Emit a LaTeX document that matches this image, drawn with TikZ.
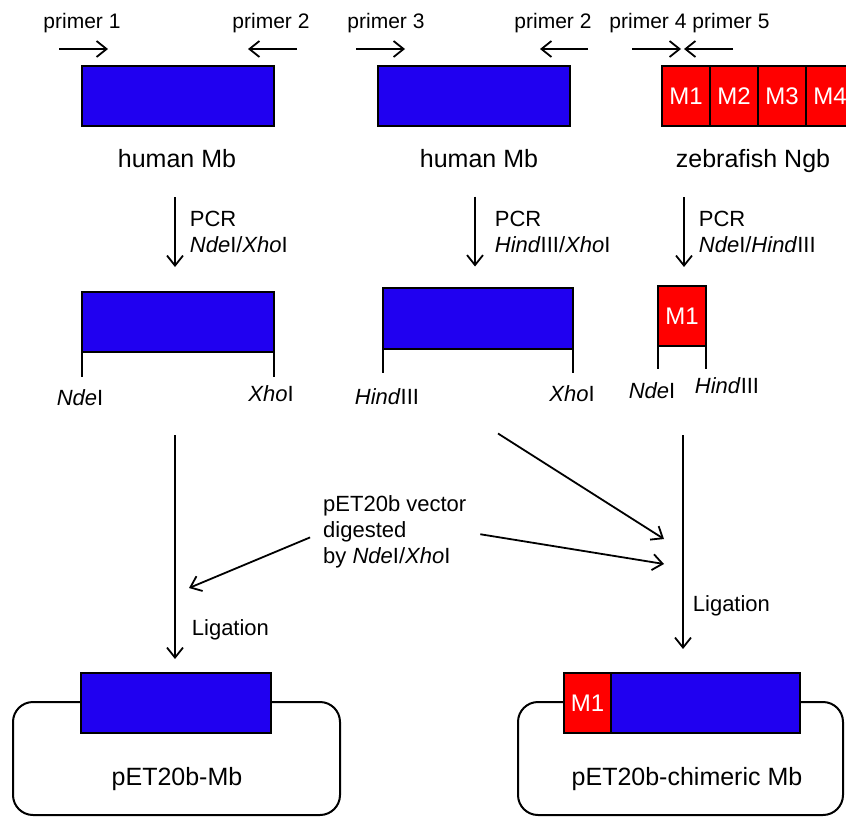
\documentclass[tikz,border=0pt]{standalone}
\usepackage{fontspec}
\setmainfont{Liberation Sans}
\usetikzlibrary{calc,arrows.meta}

\definecolor{mbblue}{RGB}{32,0,240}
\definecolor{ngbred}{RGB}{255,0,0}

\begin{document}
\begin{tikzpicture}[x=1pt,y=-1pt]
     \tikzstyle{mb}=[draw,fill=mbblue,line width=2pt,outer sep=0pt,inner sep=0pt]
     \tikzstyle{ngb}=[draw,fill=ngbred,line width=1.6pt,outer sep=0pt,inner sep=0pt,
       text=white,font=\fontsize{24}{24}\selectfont,minimum width=48pt,minimum height=60pt]
     \tikzstyle{big}=[font=\fontsize{25}{30}\selectfont,inner sep=0pt]
     \tikzstyle{small}=[font=\fontsize{22}{26}\selectfont,inner sep=0pt]
     \tikzstyle{primer}=[font=\fontsize{21}{24}\selectfont,inner sep=0pt]
     \tikzstyle{flow}=[line width=1.8pt,-{Straight Barb[length=10pt,width=16pt]}]
     \tikzstyle{leg}=[line width=2pt]
     \tikzstyle{plasmid}=[draw,line width=2pt,rounded corners=20pt,outer sep=0pt]

     \useasboundingbox (0,0) rectangle (846,817);

     % primers
     \node[primer,anchor=base] (p1) at (82,28) {primer 1};
     \node[primer,anchor=base] (p2) at (271,28) {primer 2};
     \node[primer,anchor=base] (p3) at (386,28) {primer 3};
     \node[primer,anchor=base] (p2b) at (553,28) {primer 2};
     \node[primer,anchor=base] (p4) at (648,28) {primer 4};
     \node[primer,anchor=base] (p5) at (731,28) {primer 5};
     \draw[flow] ($(p1.base)+(-23,21)$) -- ($(p1.base)+(26,21)$);
     \draw[flow] ($(p2.base)+(26,21)$) -- ($(p2.base)+(-23,21)$);
     \draw[flow] ($(p3.base)+(-30,21)$) -- ($(p3.base)+(19,21)$);
     \draw[flow] ($(p2b.base)+(35,21)$) -- ($(p2b.base)+(-13,21)$);
     \draw[flow] ($(p4.base)+(-16,21)$) -- ($(p4.base)+(33,21)$);
     \draw[flow] ($(p5.base)+(2,21)$) -- ($(p5.base)+(-47,21)$);

     % templates
     \node[mb] (mb1) at (178,96) [minimum width=192pt, minimum height=60pt] {};
     \node[mb] (mb2) at (474,96) [minimum width=192pt, minimum height=60pt] {};
     \node[ngb] (ngb1) at (686,96) {M1};
     \node[ngb] (ngb2) at (734,96) {M2};
     \node[ngb] (ngb3) at (782,96) {M3};
     \node[ngb] (ngb4) at (830,96) {M4};
     \node[big,anchor=base] (hmb1) at (177,167) {human Mb};
     \node[big,anchor=base] (hmb2) at (479,167) {human Mb};
     \node[big,anchor=base] (zng) at (753,167) {zebrafish Ngb};

     % PCR products
     \node[mb] (mb1b) at (178,322) [minimum width=192pt, minimum height=60pt] {};
     \node[mb] (mb2b) at (478,318) [minimum width=190pt, minimum height=61pt] {};
     \node[ngb] (m1b) at (682,316) {M1};
     \draw[leg] (mb1b.south west) -- ++(0,25);
     \draw[leg] (mb1b.south east) -- ++(0,25);
     \draw[leg] (mb2b.south west) -- ++(0,24);
     \draw[leg] (mb2b.south east) -- ++(0,24);
     \draw[leg] (m1b.south west) -- ++(0,23);
     \draw[leg] (m1b.south east) -- ++(0,23);

     \node[small,anchor=base] (nde1) at (80,405) {\textit{Nde}I};
     \node[small,anchor=base] (xho1) at (271,401) {\textit{Xho}I};
     \node[small,anchor=base] (hind2) at (387,404) {\textit{Hind}III};
     \node[small,anchor=base] (xho2) at (572,401) {\textit{Xho}I};
     \node[small,anchor=base] (nde3) at (652,398) {\textit{Nde}I};
     \node[small,anchor=base] (hind3) at (727,393) {\textit{Hind}III};

     \draw[flow] ($(mb1b.north)+(-3,-95)$) -- ($(mb1b.north)+(-3,-25)$)
       node [midway, right=14pt, small, align=left] {PCR\\\textit{Nde}I/\textit{Xho}I};
     \draw[flow] ($(mb2b.north)+(-3,-91)$) -- ($(mb2b.north)+(-3,-21)$)
       node [midway, right=19pt, small, align=left] {PCR\\\textit{Hind}III/\textit{Xho}I};
     \draw[flow] ($(m1b.north)+(2,-89)$) -- ($(m1b.north)+(2,-19)$)
       node [midway, right=14pt, small, align=left] {PCR\\\textit{Nde}I/\textit{Hind}III};

     % vector
     \node[small,align=left,anchor=west] (vec) at (323,532)
       {pET20b vector\\digested\\by \textit{Nde}I/\textit{Xho}I};

     % ligation products
     \node[plasmid] (pl1) at (176.5,758.5) [minimum width=327pt, minimum height=113pt] {};
     \node[plasmid] (pl2) at (680.5,758.5) [minimum width=325pt, minimum height=113pt] {};
     \node[mb] (mb1c) at (176,703) [minimum width=190pt, minimum height=60pt] {};
     \node[ngb,minimum width=47pt] (m1c) at (587.5,703) {M1};
     \node[mb,anchor=west] (mb2c) at (m1c.east) [minimum width=189pt, minimum height=60pt] {};
     \node[big,anchor=base] (plmb) at (177,785) {pET20b-Mb};
     \node[big,anchor=base] (plchim) at (687,785) {pET20b-chimeric Mb};

     \coordinate (endL) at ($(mb1c.north)+(-1,-14)$);
     \coordinate (endR) at ($(m1b.south |- m1c.north)+(1,-24)$);
     \coordinate (joinA) at (664,539);
     \coordinate (joinB) at (664,564);
     \draw[flow] ($(mb1c.north |- nde1.south)+(-1,30)$) -- (endL)
       node [pos=0.87, right=16pt, small] {Ligation};
     \draw[flow] ($(m1b.south |- nde3.south)+(1,37)$) -- (endR)
       node [pos=0.80, right=9pt, small] {Ligation};
     \draw[flow] ($(mb2b.south)+(20,85)$) -- (joinA);
     \draw[flow, shorten <=14pt] (vec.east) -- (joinB);
     \draw[flow, shorten <=14pt] (vec.west) -- (189,588);
\end{tikzpicture}
\end{document}
